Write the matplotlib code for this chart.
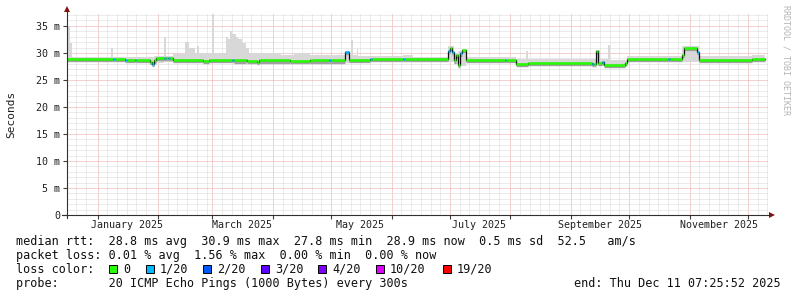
import pandas as pd
import matplotlib
matplotlib.use("Agg")
import matplotlib.pyplot as plt
import matplotlib.dates as mdates
import matplotlib.ticker as mticker
from matplotlib.lines import Line2D
from matplotlib.patches import Polygon, Rectangle

W, H = 797, 297

t_start = pd.Timestamp("2024-12-16 07:25:52")
t_end = pd.Timestamp("2025-12-11 07:25:52")
data_end = "2025-12-10"

# median rtt in ms, as steps; loss index into loss_colors
med_dates = ["2024-12-16", "2025-01-09", "2025-01-10", "2025-01-15", "2025-01-16",
             "2025-01-20", "2025-01-21", "2025-01-28", "2025-01-29", "2025-01-30",
             "2025-01-31", "2025-02-04", "2025-02-05", "2025-02-06", "2025-02-07",
             "2025-02-09", "2025-02-24", "2025-02-27", "2025-03-11", "2025-03-12",
             "2025-03-18", "2025-03-19", "2025-03-24", "2025-03-25", "2025-04-10",
             "2025-04-20", "2025-04-30", "2025-05-01", "2025-05-08", "2025-05-10",
             "2025-05-21", "2025-05-22", "2025-06-07", "2025-06-08", "2025-06-30",
             "2025-07-01", "2025-07-02", "2025-07-03", "2025-07-04", "2025-07-05",
             "2025-07-06", "2025-07-07", "2025-07-09", "2025-07-29", "2025-07-30",
             "2025-08-04", "2025-08-10", "2025-09-12", "2025-09-13", "2025-09-14",
             "2025-09-15", "2025-09-17", "2025-09-18", "2025-09-29", "2025-09-30",
             "2025-10-21", "2025-10-22", "2025-10-28", "2025-10-29", "2025-11-05",
             "2025-11-06", "2025-12-03"]
med_ms = [28.8, 28.8, 28.8, 28.75, 28.75,
          28.7, 28.7, 28.3, 27.9, 28.6,
          29.0, 29.0, 29.0, 29.0, 29.0,
          28.7, 28.5, 28.7, 28.7, 28.6,
          28.7, 28.5, 28.4, 28.6, 28.5,
          28.6, 28.6, 28.6, 30.1, 28.7,
          28.8, 28.8, 28.8, 28.8, 30.4,
          30.9, 30.2, 28.6, 29.6, 27.8,
          29.9, 30.5, 28.7, 28.7, 28.7,
          28.0, 28.1, 28.0, 28.0, 30.3,
          28.2, 28.3, 27.7, 28.2, 28.8,
          28.8, 28.8, 29.6, 30.9, 30.2,
          28.7, 28.9]
med_loss = [0, 1, 0, 1, 0,
            1, 0, 0, 1, 0,
            0, 1, 0, 1, 0,
            0, 0, 0, 1, 0,
            0, 0, 0, 0, 0,
            0, 1, 0, 1, 0,
            1, 0, 1, 0, 1,
            0, 1, 0, 0, 0,
            1, 0, 0, 1, 0,
            0, 0, 1, 0, 0,
            0, 1, 0, 0, 0,
            1, 0, 0, 0, 1,
            0, 0]

# smoke (spread of the 20 pings) in ms, as steps
smoke_dates = ["2024-12-16", "2024-12-17", "2024-12-18", "2024-12-19", "2025-01-08",
               "2025-01-09", "2025-01-28", "2025-01-30", "2025-02-04", "2025-02-05",
               "2025-02-09", "2025-02-15", "2025-02-17", "2025-02-20", "2025-02-21",
               "2025-02-22", "2025-03-01", "2025-03-02", "2025-03-08", "2025-03-09",
               "2025-03-10", "2025-03-11", "2025-03-13", "2025-03-14", "2025-03-16",
               "2025-03-18", "2025-03-20", "2025-04-05", "2025-04-12", "2025-04-20",
               "2025-05-08", "2025-05-10", "2025-05-11", "2025-05-12", "2025-05-14",
               "2025-05-15", "2025-06-07", "2025-06-12", "2025-06-30", "2025-07-03",
               "2025-07-05", "2025-07-09", "2025-08-04", "2025-08-09", "2025-08-10",
               "2025-09-14", "2025-09-16", "2025-09-20", "2025-09-21", "2025-09-30",
               "2025-10-28", "2025-11-06", "2025-12-03"]
smoke_lo = [28.3, 28.3, 28.3, 28.3, 28.3,
            28.3, 27.7, 28.2, 28.4, 28.4,
            28.1, 28.1, 28.1, 28.1, 28.1,
            28.1, 28.1, 28.1, 28.1, 28.1,
            28.1, 28.1, 28.1, 28.1, 28.1,
            28.1, 28.0, 28.0, 28.0, 28.0,
            28.2, 28.2, 28.2, 28.2, 28.2,
            28.3, 28.3, 28.3, 28.3, 28.0,
            27.5, 28.2, 27.6, 27.6, 27.6,
            27.6, 27.6, 27.3, 27.3, 28.3,
            28.3, 28.2, 28.4]
smoke_hi = [31.8, 35.0, 31.8, 29.3, 30.9,
            29.3, 29.3, 29.5, 33.0, 29.5,
            29.8, 32.0, 30.9, 29.9, 31.2,
            30.0, 37.5, 30.0, 33.0, 32.5,
            34.0, 33.5, 33.0, 32.6, 31.8,
            30.9, 30.0, 29.6, 30.0, 29.7,
            30.4, 29.6, 32.4, 29.6, 30.8,
            29.4, 29.7, 29.3, 31.2, 30.0,
            30.3, 29.3, 28.8, 30.4, 28.9,
            30.6, 28.9, 31.5, 28.6, 29.4,
            31.3, 29.4, 29.6]

y_ticks = [0, 5, 10, 15, 20, 25, 30, 35]
month_labels = ["January 2025", "March 2025", "May 2025", "July 2025",
                "September 2025", "November 2025"]
month_label_dates = ["2025-01-16", "2025-03-16", "2025-05-16", "2025-07-16",
                     "2025-09-16", "2025-11-16"]

loss_names = ["0", "1/20", "2/20", "3/20", "4/20", "10/20", "19/20"]
loss_colors = ["#26ff00", "#00b8ff", "#0059ff", "#5e00ff", "#7e00ff", "#dd00ff", "#ff0000"]

stats_line = "median rtt:  28.8 ms avg  30.9 ms max  27.8 ms min  28.9 ms now  0.5 ms sd  52.5   am/s"
loss_line = "packet loss: 0.01 % avg  1.56 % max  0.00 % min  0.00 % now"
probe_line = "probe:       20 ICMP Echo Pings (1000 Bytes) every 300s"
end_line = "end: Thu Dec 11 07:25:52 2025"

plt.rcParams['font.family'] = ['DejaVu Sans Mono']


def fx(x):
    return x / W


def fy(y):
    return 1 - y / H


fig = plt.figure(figsize=(W / 100, H / 100), dpi=100)
fig.patch.set_facecolor("white")
ax = fig.add_axes([fx(67), fy(215), 701 / W, 201 / H])
ax.set_facecolor("white")

# smoke
sd = pd.to_datetime(smoke_dates + [data_end])
ax.fill_between(sd, smoke_lo + [smoke_lo[-1]], smoke_hi + [smoke_hi[-1]],
                step="post", color="#d8d8d8", lw=0, zorder=2)

# median: grey shade under it, dark step line, then loss coloured segments
md = pd.to_datetime(med_dates + [data_end])
mv = med_ms + [med_ms[-1]]
ax.hlines([v - 0.2 for v in med_ms], md[:-1], md[1:], colors="#a0a0a0", lw=2.4, zorder=3)
ax.step(md, mv, where="post", color="#101010", lw=0.9, zorder=4)
ax.hlines(med_ms, md[:-1], md[1:], colors=[loss_colors[i] for i in med_loss],
          lw=1.8, zorder=5)

ax.set_xlim(t_start, t_end)
ax.set_ylim(0, 37.2)

# grid
ax.xaxis.set_major_locator(mdates.MonthLocator())
ax.xaxis.set_minor_locator(mdates.DayLocator(bymonthday=[6, 11, 16, 21, 26]))
ax.xaxis.set_major_formatter(mticker.NullFormatter())
ax.set_yticks(y_ticks)
ax.yaxis.set_minor_locator(mticker.MultipleLocator(1))
ax.yaxis.set_major_formatter(mticker.FuncFormatter(lambda v, p: "0" if v == 0 else "%d m" % v))
ax.grid(which="minor", color="#d8d8d8", lw=0.72, linestyle=(0, (1, 1)))
ax.grid(which="major", color="#eba3a3", lw=0.72, linestyle=(0, (1, 1)))
ax.set_axisbelow(True)

ax.tick_params(which="major", axis="y", length=3, width=0.8, color="#404040",
               labelsize=7.2, pad=2, labelcolor="#202020")
ax.tick_params(which="major", axis="x", length=3, width=0.8, color="#404040")
ax.tick_params(which="minor", length=0)
for s in ax.spines.values():
    s.set_visible(False)

for d, lab in zip(month_label_dates, month_labels):
    ax.text(pd.Timestamp(d), -10 / 201, lab, transform=ax.get_xaxis_transform(),
            ha="center", va="center", fontsize=7.2, color="#202020")

# axes lines and arrows
fig.add_artist(Line2D([fx(62), fx(770)], [fy(215), fy(215)], color="#303030", lw=0.8))
fig.add_artist(Line2D([fx(67), fx(67)], [fy(218), fy(9)], color="#303030", lw=0.8))
fig.add_artist(Polygon([(fx(64), fy(12)), (fx(70), fy(12)), (fx(67), fy(6))],
                       closed=True, color="#8b1010", lw=0))
fig.add_artist(Polygon([(fx(769), fy(212)), (fx(769), fy(218)), (fx(775), fy(215))],
                       closed=True, color="#8b1010", lw=0))

fig.text(fx(11), fy(114), "Seconds", rotation=90, ha="center", va="center",
         fontsize=8, color="#202020")
fig.text(fx(786), fy(5), "RRDTOOL / TOBI OETIKER", rotation=270, ha="center", va="top",
         fontsize=6, color="#b4b4b4")

# legend
fig.text(fx(16), fy(245), stats_line, fontsize=8.5, va="baseline", color="#101010")
fig.text(fx(16), fy(259), loss_line, fontsize=8.5, va="baseline", color="#101010")
fig.text(fx(16), fy(273), "loss color:", fontsize=8.5, va="baseline", color="#101010")
sq_x = [109, 146, 203, 261, 318, 376, 443]
lab_x = [123, 160, 217, 275, 332, 390, 457]
for sx, lx, name, col in zip(sq_x, lab_x, loss_names, loss_colors):
    fig.add_artist(Rectangle((fx(sx), fy(273)), 8 / W, 8 / H, facecolor=col,
                             edgecolor="#000000", lw=0.7))
    fig.text(fx(lx), fy(273), name, fontsize=8.5, va="baseline", color="#101010")
fig.text(fx(16), fy(287), probe_line, fontsize=8.5, va="baseline", color="#101010")
fig.text(fx(781), fy(287), end_line, fontsize=8.5, va="baseline", ha="right", color="#101010")

fig.savefig("out.png", dpi=100, facecolor="white")
